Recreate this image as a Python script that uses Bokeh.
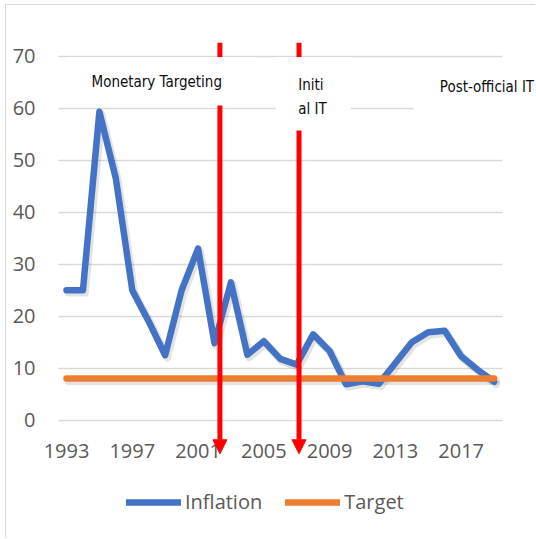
from bokeh.plotting import figure
from bokeh.models import (Range1d, FixedTicker, Legend, LegendItem, Label,
                          BoxAnnotation, Arrow, NormalHead)
from bokeh.embed import file_html
from bokeh.resources import INLINE

years = list(range(1993, 2020))
inflation = [25, 25, 59.3, 46.5, 25, 19, 12.5, 25, 33, 14.8, 26.5, 12.6, 15.2,
             11.8, 10.7, 16.5, 13.3, 6.9, 7.5, 7.0, 11, 15, 16.9, 17.2, 12.3, 9.7, 7.4]
target = [8] * len(years)
x_ticks = [1993, 1997, 2001, 2005, 2009, 2013, 2017]
y_ticks = [0, 10, 20, 30, 40, 50, 60, 70]
regime_breaks = [2002.33, 2007.14]
regime_labels = ["Monetary Targeting", "Initi", "al IT", "Post-official IT"]

BLUE = "#4472C4"
ORANGE = "#ED7D31"
GREY_TXT = "#595959"
NOTE_FONT = "DejaVu Sans Condensed, Roboto"

p = figure(width=530, height=534, output_backend="svg", toolbar_location=None,
           x_range=Range1d(1991.419, 2021.582), y_range=Range1d(-22.94, 74.94),
           min_border_left=34, min_border_right=0, min_border_top=25,
           min_border_bottom=0)
p.outline_line_color = None
p.background_fill_color = "white"
p.border_fill_color = "white"
p.styles = {"margin-left": "5px", "margin-top": "4px",
            "border-left": "1px solid #d9d9d9", "border-top": "1px solid #d9d9d9"}

# axes
p.xaxis.ticker = FixedTicker(ticks=x_ticks)
p.xaxis.fixed_location = 0
p.xaxis.axis_line_color = None
p.xaxis.major_tick_line_color = None
p.xaxis.minor_tick_line_color = None
p.xaxis.major_label_standoff = 18
p.xaxis.major_label_text_font = "Open Sans"
p.xaxis.major_label_text_font_size = "20px"
p.xaxis.major_label_text_color = GREY_TXT

p.yaxis.ticker = FixedTicker(ticks=y_ticks)
p.yaxis.axis_line_color = None
p.yaxis.major_tick_line_color = None
p.yaxis.minor_tick_line_color = None
p.yaxis.major_tick_out = 0
p.yaxis.major_label_standoff = 5
p.yaxis.major_label_text_font = "Open Sans"
p.yaxis.major_label_text_font_size = "20px"
p.yaxis.major_label_text_color = GREY_TXT

p.xgrid.visible = False
p.ygrid.ticker = FixedTicker(ticks=y_ticks)
p.ygrid.grid_line_color = "#d9d9d9"
p.ygrid.grid_line_width = 1.3

# keep gridlines within the category span
p.add_layout(BoxAnnotation(right=years[0] - 0.5, fill_color="white", fill_alpha=1,
                           line_color=None, level="underlay"))
p.add_layout(BoxAnnotation(left=years[-1] + 0.5, fill_color="white", fill_alpha=1,
                           line_color=None, level="underlay"))

# shadows
p.line([y + 0.12 for y in years], [v - 0.45 for v in inflation], line_color="black",
       line_alpha=0.11, line_width=8, line_cap="round", line_join="round")
p.line([y + 0.12 for y in years], [v - 0.45 for v in target], line_color="black",
       line_alpha=0.11, line_width=8, line_cap="round", line_join="round")

r_inf = p.line(years, inflation, line_color=BLUE, line_width=6.5,
               line_cap="round", line_join="round")
r_tgt = p.line(years, target, line_color=ORANGE, line_width=6.5,
               line_cap="round", line_join="round")

# regime arrows
for xb in regime_breaks:
    p.add_layout(Arrow(end=NormalHead(size=14, fill_color="red", line_color="red", line_width=1),
                       x_start=xb, y_start=72.6, x_end=xb, y_end=-6.46,
                       line_color="red", line_width=5))

# white text boxes
p.add_layout(BoxAnnotation(left=1993.06, right=2004.50, top=69.85, bottom=60.52,
                           fill_color="white", fill_alpha=1, line_color=None))
p.add_layout(BoxAnnotation(left=2005.72, right=2010.29, top=69.85, bottom=55.71,
                           fill_color="white", fill_alpha=1, line_color=None))
p.add_layout(BoxAnnotation(left=2014.12, top=68.8, bottom=58.0,
                           fill_color="white", fill_alpha=1, line_color=None))

lab_pos = [(1994.52, 65.0), (2007.09, 64.4), (2007.09, 59.9), (2015.7, 64.1)]
for txt, (lx, ly) in zip(regime_labels, lab_pos):
    p.add_layout(Label(x=lx, y=ly, text=txt, text_font=NOTE_FONT,
                       text_font_size="15px", text_color="#0d0d0d",
                       text_baseline="alphabetic", text_align="left"))

legend = Legend(items=[LegendItem(label="Inflation", renderers=[r_inf]),
                       LegendItem(label="Target", renderers=[r_tgt])],
                location=(86, 24), orientation="horizontal",
                glyph_width=55, glyph_height=20, label_standoff=4, spacing=23,
                padding=0, margin=0, border_line_color=None,
                background_fill_alpha=0,
                label_text_font="Open Sans", label_text_font_size="20px",
                label_text_color=GREY_TXT)
p.add_layout(legend)

open("out.html", "w").write(file_html(p, INLINE))
